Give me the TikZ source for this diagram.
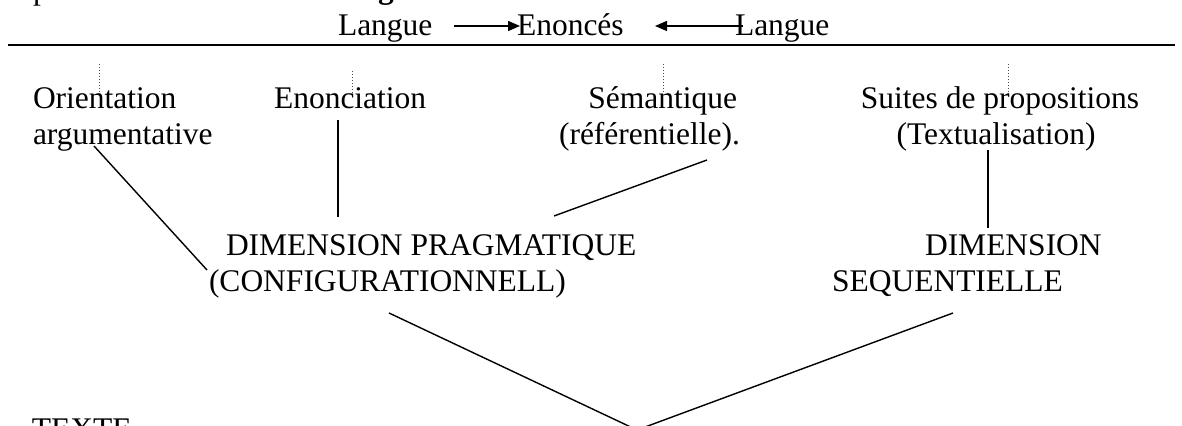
\documentclass[tikz,border=0pt]{standalone}
\usepackage{fontspec}
\setmainfont{Liberation Serif}
\usetikzlibrary{arrows.meta}
\begin{document}
\begin{tikzpicture}[x=0.5pt,y=-0.5pt,
  lbl/.style={inner sep=0pt, outer sep=0pt, font=\fontsize{15.75pt}{18pt}\selectfont},
  conn/.style={line width=0.7pt},
  tick/.style={line width=0.4pt, dash pattern=on 0.5pt off 1pt, black!70},
  arr/.style={line width=0.7pt, -{Triangle[length=6pt,width=5pt]}}
]
\useasboundingbox (0,0) rectangle (1182,426);
\clip (0,0) rectangle (1182,426);
% cut-off fragments of the line above
\node[lbl, anchor=base west] (frag1) at (33,0) {p};
\node[lbl, anchor=base west] (frag2) at (378,-1) {\bfseries g};
% top row
\node[lbl, anchor=base west] (lang1) at (338,36) {Langue};
\node[lbl, anchor=base west] (enon) at (517,36) {Enoncés};
\node[lbl, anchor=base west] (lang2) at (735,36) {Langue};
\coordinate (a1s) at (454,26);
\coordinate (a1e) at (520,26);
\coordinate (a2s) at (743,26);
\coordinate (a2e) at (655,26);
\draw[arr] (a1s) -- (a1e);
\draw[arr] (a2s) -- (a2e);
\coordinate (rl) at (8,45);
\coordinate (rr) at (1175,45);
\draw[line width=1pt] (rl) -- (rr);
% second row
\node[lbl, anchor=base west] (or1) at (33,109) {Orientation};
\node[lbl, anchor=base west] (or2) at (33,145) {argumentative};
\node[lbl, anchor=base west] (en) at (274,109) {Enonciation};
\node[lbl, anchor=base east] (se1) at (737,109) {Sémantique};
\node[lbl, anchor=base east] (se2) at (740,145) {(référentielle).};
\node[lbl, anchor=base] (su1) at (1000,109) {Suites de propositions};
\node[lbl, anchor=base] (su2) at (996,145) {(Textualisation)};
% dotted ticks
\coordinate (t1a) at (99,64);  \coordinate (t1b) at (99,93);
\coordinate (t2a) at (352,71); \coordinate (t2b) at (352,93);
\coordinate (t3a) at (663,64); \coordinate (t3b) at (663,93);
\coordinate (t4a) at (1008,64); \coordinate (t4b) at (1008,93);
\draw[tick] (t1a) -- (t1b);
\draw[tick] (t2a) -- (t2b);
\draw[tick] (t3a) -- (t3b);
\draw[tick] (t4a) -- (t4b);
% third row
\node[lbl, anchor=base west] (dp1) at (226,256) {DIMENSION PRAGMATIQUE};
\node[lbl, anchor=base west] (dp2) at (209,292) {(CONFIGURATIONNELL)};
\node[lbl, anchor=base west] (ds1) at (925,256) {DIMENSION};
\node[lbl, anchor=base west] (ds2) at (832,292) {SEQUENTIELLE};
% connectors
\coordinate (c1a) at (94,146);  \coordinate (c1b) at (207,270);
\coordinate (c2a) at (338,120); \coordinate (c2b) at (338,217);
\coordinate (c3a) at (707,160); \coordinate (c3b) at (554,216);
\coordinate (c4a) at (988,150); \coordinate (c4b) at (988,228);
\draw[conn] (c1a) -- (c1b);
\draw[conn] (c2a) -- (c2b);
\draw[conn] (c3a) -- (c3b);
\draw[conn] (c4a) -- (c4b);
\coordinate (vl) at (389,313);
\coordinate (vb) at (637,430);
\coordinate (vr) at (953,313);
\draw[conn] (vl) -- (vb) -- (vr);
% bottom
\node[lbl, anchor=base west] (texte) at (32,440) {TEXTE};
\end{tikzpicture}
\end{document}
